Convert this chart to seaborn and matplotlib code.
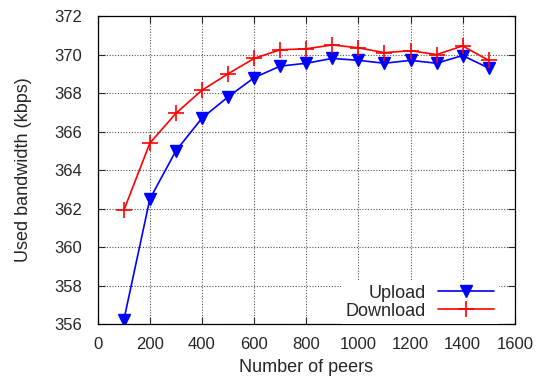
import matplotlib
matplotlib.use("Agg")
import matplotlib.pyplot as plt
import seaborn as sns
import pandas as pd

# Bandwidth measurements per network size
peers = [100, 200, 300, 400, 500, 600, 700, 800, 900, 1000, 1100, 1200, 1300, 1400, 1500]
upload = [356.2, 362.5, 365.0, 366.7, 367.8, 368.8, 369.4, 369.55, 369.8, 369.7,
          369.55, 369.7, 369.55, 369.95, 369.3]
download = [361.9, 365.4, 366.95, 368.15, 369.0, 369.8, 370.25, 370.3, 370.5, 370.35,
            370.1, 370.2, 370.0, 370.45, 369.7]

x_ticks = [0, 200, 400, 600, 800, 1000, 1200, 1400, 1600]
y_ticks = [356, 358, 360, 362, 364, 366, 368, 370, 372]

sns.set_style("ticks")
plt.rcParams["font.family"] = ["Liberation Sans", "DejaVu Sans"]

df = pd.DataFrame({"peers": peers, "Upload": upload, "Download": download})

fig = plt.figure(figsize=(5.43, 3.83), dpi=100)
ax = fig.add_axes([0.180, 0.154, 0.768, 0.804])

sns.lineplot(data=df, x="peers", y="Upload", ax=ax, color="#0000ff",
             marker="v", markersize=8, markeredgecolor="#0000ff",
             markeredgewidth=1.0, linewidth=1.2, label="Upload")
sns.lineplot(data=df, x="peers", y="Download", ax=ax, color="#ff0000",
             marker="+", markersize=11, markeredgecolor="#ff0000",
             markeredgewidth=1.2, linewidth=1.2, label="Download")

ax.set_xlim(0, 1600)
ax.set_ylim(356, 372)
ax.set_xticks(x_ticks)
ax.set_yticks(y_ticks)
ax.grid(True, linestyle=(0, (1, 1.5)), color="#555555", linewidth=0.8)
ax.tick_params(direction="in", top=True, right=True, labelsize=12, length=5,
               width=0.8)
ax.tick_params(axis="y", pad=11)
ax.tick_params(axis="x", pad=9)
for s in ax.spines.values():
    s.set_linewidth(0.9)
    s.set_color("black")

ax.set_xlabel("Number of peers", fontsize=13)
ax.set_ylabel("Used bandwidth (kbps)", fontsize=13)
ax.xaxis.set_label_coords(0.5, -0.115)
ax.yaxis.set_label_coords(-0.158, 0.5)

leg = ax.legend(loc="lower right", bbox_to_anchor=(0.962, 0.0), markerfirst=False,
                fontsize=13, frameon=True, facecolor="white", edgecolor="white",
                framealpha=1, fancybox=False, handlelength=3.1, handletextpad=0.7,
                borderpad=0.25, labelspacing=0.05, borderaxespad=0.0)
leg.get_frame().set_linewidth(0)

fig.savefig("out.png", dpi=100)
